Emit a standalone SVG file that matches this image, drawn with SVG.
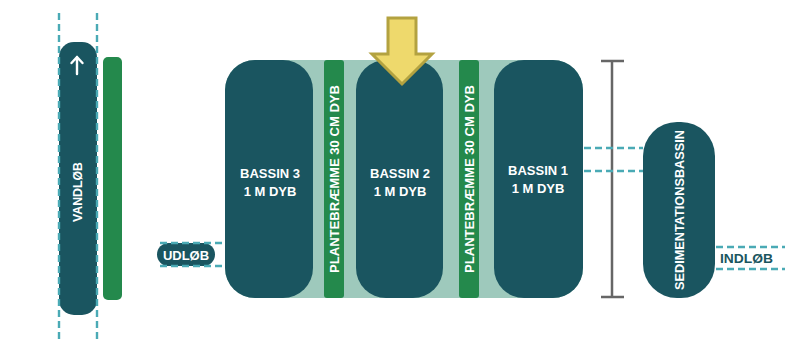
<svg xmlns="http://www.w3.org/2000/svg" width="805" height="356" viewBox="0 0 805 356">
<style>
.dark{fill:#1a5560}
.plant{fill:#24894c}
.dash{stroke:#4aaab5;stroke-width:2.4;stroke-dasharray:7 4;fill:none}
.lbl{font-family:"Liberation Sans",Arial,sans-serif;font-weight:bold;font-size:13px;fill:#ffffff;text-anchor:middle}
.vlbl{font-family:"Liberation Sans",Arial,sans-serif;font-weight:bold;font-size:13px;fill:#ffffff;text-anchor:middle}
</style>
<rect width="805" height="356" fill="#ffffff"/>
<g id="vandlob">
<rect class="dark" x="59" y="42" width="38" height="273" rx="15"/>
<path d="M77 74 V57 M71.5 63 L77 57 L82.5 63" stroke="#ffffff" stroke-width="2.4" fill="none" stroke-linecap="round" stroke-linejoin="round"/>
<text class="vlbl" transform="translate(82,192) rotate(-90)" textLength="60" lengthAdjust="spacingAndGlyphs">VANDLØB</text>
</g>
<g id="plant-left">
<rect class="plant" x="103" y="57" width="19" height="243" rx="5"/>
</g>
<g id="udlob">
<rect class="dark" x="157" y="243" width="58" height="23" rx="11.5"/>
<text class="lbl" x="186" y="259.5" font-size="12.5">UDLØB</text>
</g>
<g id="background">
<rect x="225" y="60" width="358" height="238" rx="30" fill="#9ec9bc"/>
</g>
<g id="bassin3">
<rect class="dark" x="225" y="60" width="88" height="238" rx="30"/>
<text class="lbl" x="270" y="178">BASSIN 3</text>
<text class="lbl" x="270" y="196">1 M DYB</text>
</g>
<g id="plantebraemme1">
<rect class="plant" x="324" y="60" width="20" height="238" rx="3"/>
<text class="vlbl" transform="translate(338.5,179) rotate(-90)" textLength="188" lengthAdjust="spacingAndGlyphs">PLANTEBRÆMME  30 CM DYB</text>
</g>
<g id="bassin2">
<rect class="dark" x="356" y="60" width="87" height="238" rx="30"/>
<text class="lbl" x="400" y="178">BASSIN 2</text>
<text class="lbl" x="400" y="196">1 M DYB</text>
</g>
<g id="plantebraemme2">
<rect class="plant" x="459" y="60" width="20" height="238" rx="3"/>
<text class="vlbl" transform="translate(473.5,179) rotate(-90)" textLength="188" lengthAdjust="spacingAndGlyphs">PLANTEBRÆMME  30 CM DYB</text>
</g>
<g id="bassin1">
<rect class="dark" x="494" y="60" width="89" height="238" rx="30"/>
<text class="lbl" x="538" y="175">BASSIN 1</text>
<text class="lbl" x="538" y="193">1 M DYB</text>
</g>
<g id="arrow">
<polygon points="388,18 416,18 416,54 432,54 402,84 372,54 388,54" fill="#eed96c" stroke="#b3a240" stroke-width="3" stroke-linejoin="miter"/>
</g>
<g id="depth">
<path d="M612 61 V297 M601 61 H624 M601 297 H624" stroke="#666666" stroke-width="2.5" fill="none"/>
</g>
<g id="sedimentation">
<rect class="dark" x="643" y="122" width="72" height="176" rx="34"/>
<text class="vlbl" transform="translate(683.5,210) rotate(-90)" textLength="160" lengthAdjust="spacingAndGlyphs">SEDIMENTATIONSBASSIN</text>
</g>
<g id="indlob">
<text class="lbl" x="746.5" y="263" textLength="53" lengthAdjust="spacingAndGlyphs" style="fill:#1a5560">INDLØB</text>
</g>
<g id="connectors">
<line class="dash" x1="59" y1="13" x2="59" y2="343"/>
<line class="dash" x1="97" y1="13" x2="97" y2="343"/>
<line class="dash" x1="160" y1="243" x2="226" y2="243"/>
<line class="dash" x1="160" y1="266" x2="226" y2="266"/>
<line class="dash" x1="584" y1="148" x2="643" y2="148"/>
<line class="dash" x1="584" y1="171" x2="643" y2="171"/>
<line class="dash" x1="716" y1="247" x2="785" y2="247"/>
<line class="dash" x1="716" y1="269" x2="785" y2="269"/>
</g>
</svg>
